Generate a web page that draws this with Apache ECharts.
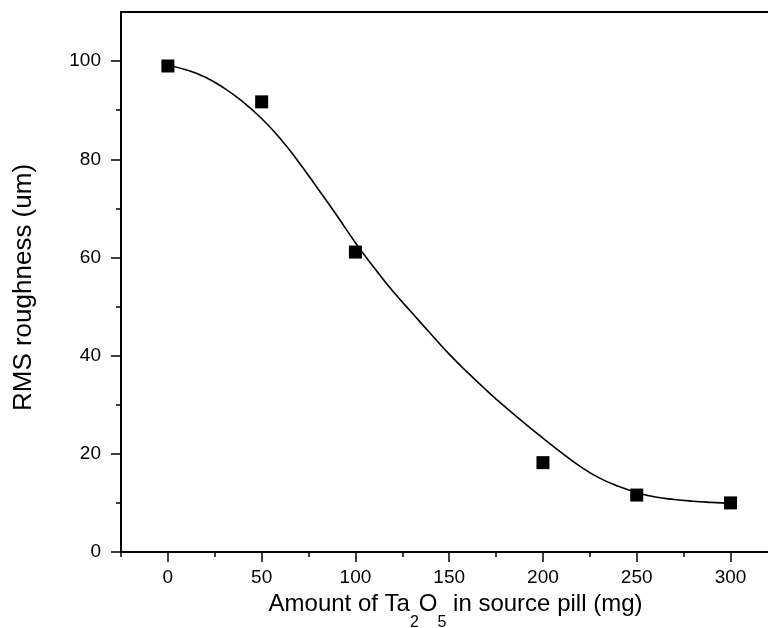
<!DOCTYPE html>
<html>
<head>
<meta charset="utf-8">
<script src="https://cdn.jsdelivr.net/npm/echarts@6/dist/echarts.min.js"></script>
<style>
html,body{margin:0;padding:0;background:#fff;}
#chart{width:768px;height:628px;}
</style>
</head>
<body>
<div id="chart"></div>
<script>
// Measured points
var amountMg = [0, 50, 100, 200, 250, 300];
var roughness = [99.0, 91.7, 61.1, 18.2, 11.6, 10.0];

// Fitted curve
var fitX = [0, 10, 20, 30, 40, 50, 60, 70, 80, 90, 100, 110, 120, 130, 140, 150, 160, 170, 180, 190, 200, 210, 220, 230, 240, 250, 260, 270, 280, 290, 300];
var fitY = [99.1, 98.2, 96.7, 94.5, 91.7, 88.3, 84.2, 79.3, 74.0, 68.6, 63.0, 57.9, 53.1, 48.8, 44.5, 40.3, 36.5, 32.9, 29.5, 26.3, 23.2, 20.2, 17.4, 15.1, 13.4, 12.1, 11.2, 10.7, 10.35, 10.1, 9.9];

// Tick labels / positions
var xMajorTicks = [0, 50, 100, 150, 200, 250, 300];
var xMinorTicks = [-25, 25, 75, 125, 175, 225, 275];
var yMajorTicks = [0, 20, 40, 60, 80, 100];
var yMinorTicks = [10, 30, 50, 70, 90];

var FONT = '"Liberation Sans", Arial, sans-serif';
var chart = echarts.init(document.getElementById('chart'), null, {renderer: 'canvas'});

var scatterData = amountMg.map(function (x, i) { return [x, roughness[i]]; });
var fitData = fitX.map(function (x, i) { return [x, fitY[i]]; });

var lineStyle = {color: '#000', width: 2};

chart.setOption({
  backgroundColor: '#fff',
  animation: false,
  grid: {left: 121, right: 0, top: 12, bottom: 76, containLabel: false, outerBoundsMode: 'none'},
  xAxis: [
    {
      type: 'value', min: -25, max: 320, interval: 25, position: 'bottom',
      splitLine: {show: false},
      axisLine: {show: true, onZero: false, lineStyle: lineStyle},
      axisTick: {show: true, length: 10, customValues: xMajorTicks, lineStyle: {color: '#000', width: 1.5}},
      axisLabel: {customValues: xMajorTicks, margin: 16, color: '#000', fontSize: 19, fontFamily: FONT},
      name: '{m|Amount of Ta}{s|2}{m|O}{s|5}{m| in source pill (mg)}',
      nameLocation: 'middle',
      nameGap: 36,
      nameTextStyle: {
        padding: [0, 0, 0, 22],
        verticalAlign: 'top',
        rich: {
          m: {fontSize: 24, fontFamily: FONT, color: '#000', lineHeight: 28, verticalAlign: 'top'},
          s: {fontSize: 16, fontFamily: FONT, color: '#000', lineHeight: 16, verticalAlign: 'top', padding: [23, 0, 0, 0]}
        }
      }
    },
    {
      type: 'value', min: -25, max: 320, interval: 25, position: 'bottom',
      splitLine: {show: false},
      axisLine: {show: false, onZero: false},
      axisTick: {show: true, length: 5, customValues: xMinorTicks, lineStyle: {color: '#000', width: 1.5}},
      axisLabel: {show: false}
    },
    {
      type: 'value', min: -25, max: 320, position: 'top',
      splitLine: {show: false},
      axisLine: {show: true, onZero: false, lineStyle: lineStyle},
      axisTick: {show: false},
      axisLabel: {show: false}
    }
  ],
  yAxis: [
    {
      type: 'value', min: 0, max: 110, interval: 10, position: 'left',
      splitLine: {show: false},
      axisLine: {show: true, onZero: false, lineStyle: lineStyle},
      axisTick: {show: true, length: 10, customValues: yMajorTicks, lineStyle: {color: '#000', width: 1.5}},
      axisLabel: {customValues: yMajorTicks, margin: 20, color: '#000', fontSize: 19, fontFamily: FONT},
      name: 'RMS roughness (um)',
      nameLocation: 'middle',
      nameGap: 84,
      nameTextStyle: {fontSize: 26, fontFamily: FONT, color: '#000', padding: [0, 11, 0, 0]}
    },
    {
      type: 'value', min: 0, max: 110, interval: 10, position: 'left',
      splitLine: {show: false},
      axisLine: {show: false, onZero: false},
      axisTick: {show: true, length: 5, customValues: yMinorTicks, lineStyle: {color: '#000', width: 1.5}},
      axisLabel: {show: false}
    }
  ],
  series: [
    {
      type: 'line',
      data: fitData,
      smooth: true,
      showSymbol: false,
      symbol: 'none',
      lineStyle: {color: '#000', width: 1.6},
      z: 2
    },
    {
      type: 'scatter',
      data: scatterData,
      symbol: 'rect',
      symbolSize: 13,
      itemStyle: {color: '#000', opacity: 1},
      z: 3
    }
  ]
});
</script>
</body>
</html>
